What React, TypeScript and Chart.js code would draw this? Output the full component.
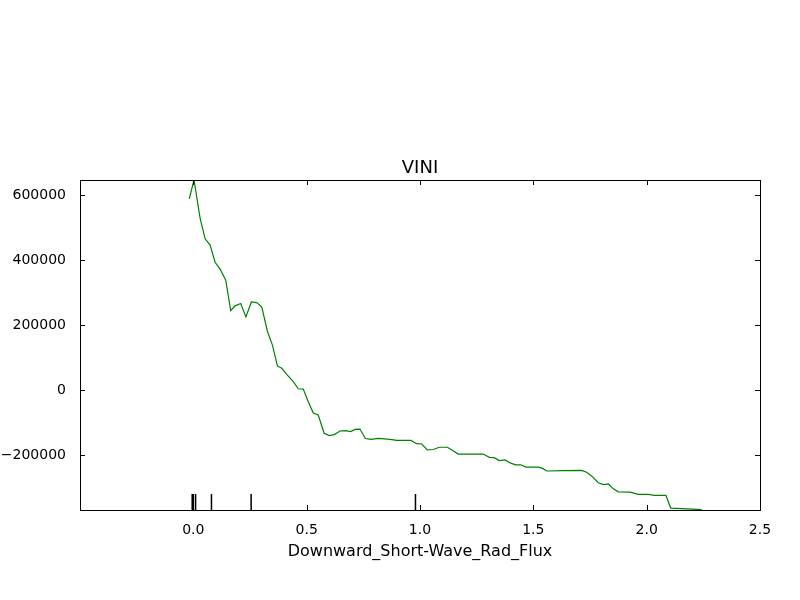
import { useEffect, useRef } from "react";
import { Chart, registerables } from "chart.js";

Chart.register(...registerables);

// partial dependence curve (x, y)
const xs = [-0.018, 0.003, 0.03, 0.052, 0.074, 0.096, 0.118, 0.143, 0.165, 0.184, 0.209, 0.232, 0.256, 0.28, 0.302, 0.327, 0.349, 0.371, 0.39, 0.415, 0.441, 0.463, 0.485, 0.507, 0.529, 0.551, 0.577, 0.6, 0.622, 0.647, 0.672, 0.694, 0.713, 0.735, 0.759, 0.783, 0.816, 0.868, 0.897, 0.96, 0.985, 1.008, 1.032, 1.059, 1.085, 1.121, 1.169, 1.279, 1.306, 1.327, 1.35, 1.375, 1.4, 1.422, 1.444, 1.468, 1.522, 1.541, 1.559, 1.632, 1.713, 1.735, 1.758, 1.787, 1.809, 1.831, 1.853, 1.875, 1.927, 1.963, 2.007, 2.033, 2.085, 2.106, 2.155, 2.243];
const ys = [588000, 646000, 528000, 465000, 446000, 393000, 372000, 338000, 244000, 259000, 266000, 225000, 271000, 269000, 255000, 180000, 138000, 74000, 67000, 46000, 26000, 4000, 3000, -36000, -71000, -77000, -133000, -140000, -137000, -126000, -125000, -128000, -121000, -120000, -149000, -152000, -149000, -152000, -155000, -155000, -165000, -166000, -184000, -183000, -176000, -176000, -197000, -197000, -207000, -208000, -217000, -215000, -225000, -230000, -230000, -237000, -237000, -241000, -249000, -248000, -247000, -253000, -265000, -285000, -291000, -289000, -304000, -313000, -314000, -321000, -321000, -324000, -324000, -363000, -365000, -368000];
// rug marks (deciles)
const rug = [-0.005, 0.0, 0.01, 0.08, 0.255, 0.98];
const xTicks = [-0.5, 0, 0.5, 1.0, 1.5, 2.0, 2.5];
const yTicks = [-200000, 0, 200000, 400000, 600000];

const frame = {
  id: "frame",
  afterDraw(chart: any) {
    const { ctx, chartArea: a, scales } = chart;
    const x = scales.x, y = scales.y;
    ctx.save();
    ctx.strokeStyle = "#000";
    ctx.lineWidth = 1;
    ctx.strokeRect(a.left + 0.5, a.top + 0.5, a.right - a.left, a.bottom - a.top);
    ctx.beginPath();
    for (const t of xTicks) {
      const px = Math.round(x.getPixelForValue(t)) + 0.5;
      ctx.moveTo(px, a.bottom); ctx.lineTo(px, a.bottom - 5);
      ctx.moveTo(px, a.top); ctx.lineTo(px, a.top + 5);
    }
    for (const t of yTicks) {
      const py = Math.round(y.getPixelForValue(t)) + 0.5;
      ctx.moveTo(a.left, py); ctx.lineTo(a.left + 5, py);
      ctx.moveTo(a.right, py); ctx.lineTo(a.right - 5, py);
    }
    ctx.stroke();
    ctx.beginPath();
    ctx.lineWidth = 1.5;
    for (const r of rug) {
      const px = x.getPixelForValue(r);
      ctx.moveTo(px, a.bottom); ctx.lineTo(px, a.bottom - 16);
    }
    ctx.stroke();
    ctx.fillStyle = "#000";
    ctx.textAlign = "center";
    ctx.textBaseline = "alphabetic";
    ctx.font = "18px 'DejaVu Sans'";
    ctx.fillText("VINI", (a.left + a.right) / 2, a.top - 7);
    ctx.font = "16px 'DejaVu Sans'";
    ctx.fillText("Downward_Short-Wave_Rad_Flux", (a.left + a.right) / 2, 556);
    ctx.restore();
  },
};

export default function App() {
  const ref = useRef<HTMLCanvasElement>(null);
  useEffect(() => {
    document.body.style.margin = "0";
    if (!ref.current) return;
    const chart = new Chart(ref.current, {
      type: "scatter",
      data: {
        datasets: [{
          data: xs.map((v, i) => ({ x: v, y: ys[i] })),
          showLine: true,
          borderColor: "#008000",
          borderWidth: 1.2,
          pointRadius: 0,
          tension: 0,
        }],
      },
      options: {
        responsive: false,
        animation: false,
        layout: { padding: { top: 180, right: 40, left: 0, bottom: 0 } },
        plugins: { legend: { display: false }, tooltip: { enabled: false } },
        scales: {
          x: {
            type: "linear", min: -0.5, max: 2.5,
            afterBuildTicks: (s: any) => { s.ticks = xTicks.map((v) => ({ value: v })); },
            afterFit: (s: any) => { s.height = 90; },
            grid: { display: false }, border: { display: false },
            ticks: {
              color: "#000", padding: 4, font: { size: 14, family: "'DejaVu Sans'" },
              callback: (v: any) => (v === -0.5 ? "" : Number(v).toFixed(1)),
            },
          },
          y: {
            type: "linear", min: -369000, max: 646000,
            afterBuildTicks: (s: any) => { s.ticks = yTicks.map((v) => ({ value: v })); },
            afterFit: (s: any) => { s.width = 80; },
            grid: { display: false }, border: { display: false },
            ticks: {
              color: "#000", padding: 6, font: { size: 14, family: "'DejaVu Sans'" },
              callback: (v: any) => String(v).replace("-", "\u2212"),
            },
          },
        },
      },
      plugins: [frame],
    });
    return () => chart.destroy();
  }, []);
  return <canvas ref={ref} width={800} height={600} style={{ display: "block" }} />;
}
